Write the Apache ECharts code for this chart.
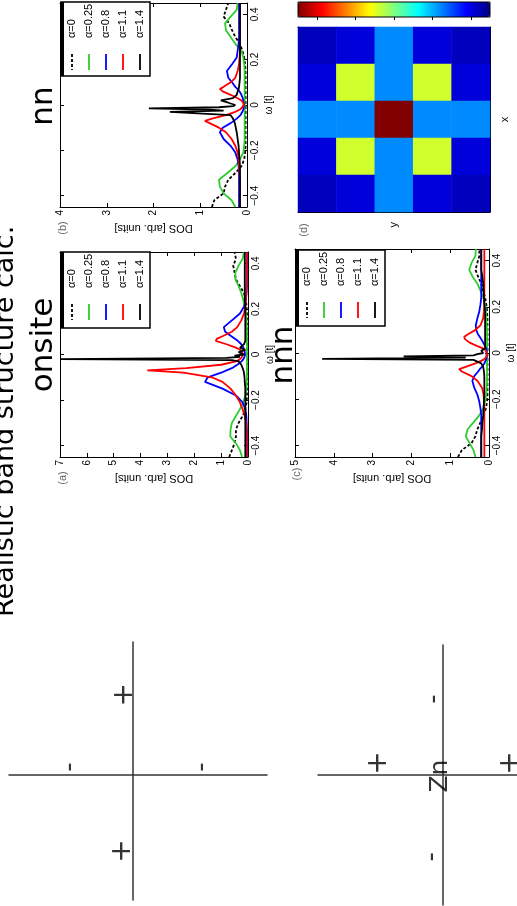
<!DOCTYPE html>
<html><head><meta charset="utf-8">
<script src="https://cdn.jsdelivr.net/npm/echarts@6/dist/echarts.min.js"></script>
<style>html,body{margin:0;padding:0;background:#fff}#c{width:517px;height:906px}</style>
</head><body><div id="c"></div>
<script>
// ---------- data ----------
const omega = [-0.45,-0.42,-0.39,-0.36,-0.33,-0.30,-0.27,-0.24,-0.21,-0.18,-0.15,-0.12,-0.10,
  -0.08,-0.07,-0.06,-0.045,-0.03,-0.025,-0.02,-0.015,-0.01,-0.005,0,
  0.01,0.02,0.03,0.045,0.06,0.07,0.08,
  0.10,0.12,0.15,0.18,0.21,0.24,0.27,0.30,0.33,0.36,0.39,0.42,0.45];
const omegaTicks = [-0.4,-0.2,0,0.2,0.4];
const legendLabels = ['α=0','α=0.25','α=0.8','α=1.1','α=1.4'];

// panel (a) onsite
const aDos0 = [0.70,0.60,0.50,0.45,0.45,0.35,0.20,0.10,0.05,0.04,0.04,0.04,0.04,
  0.04,0.04,0.04,0.04,0.04,0.04,0.04,0.04,0.04,0.04,0.04,
  0.04,0.04,0.04,0.04,0.04,0.04,0.04,
  0.04,0.04,0.04,0.04,0.05,0.08,0.15,0.30,0.45,0.50,0.55,0.45,0.50];
const aDos025 = [0.22,0.30,0.45,0.66,0.65,0.60,0.45,0.30,0.18,0.10,0.06,0.05,0.04,
  0.04,0.04,0.04,0.04,0.04,0.04,0.04,0.04,0.04,0.04,0.04,
  0.04,0.04,0.04,0.04,0.04,0.04,0.04,
  0.04,0.05,0.06,0.08,0.12,0.18,0.25,0.35,0.47,0.47,0.35,0.20,0.15];
const aDos08 = [0.04,0.04,0.04,0.04,0.04,0.05,0.06,0.10,0.20,0.45,0.95,1.60,1.50,
  1.00,0.80,0.60,0.40,0.24,0.20,0.17,0.15,0.13,0.12,0.11,
  0.12,0.14,0.17,0.25,0.38,0.50,0.62,
  0.85,0.90,0.60,0.30,0.15,0.08,0.05,0.04,0.04,0.04,0.04,0.04,0.04];
const aDos11 = [0.05,0.05,0.05,0.05,0.06,0.07,0.12,0.20,0.30,0.45,0.65,0.95,1.35,
  2.40,3.75,2.30,1.00,0.45,0.35,0.30,0.25,0.22,0.20,0.20,
  0.22,0.28,0.45,0.80,1.20,1.15,0.95,
  0.60,0.40,0.25,0.15,0.10,0.08,0.07,0.06,0.05,0.05,0.05,0.05,0.05];
const aDos14 = [0.10,0.10,0.10,0.10,0.10,0.10,0.10,0.10,0.10,0.10,0.10,0.12,0.13,
  0.15,0.17,0.20,0.25,0.35,0.60,7.00,0.80,0.30,0.50,0.15,
  0.35,0.10,0.30,0.15,0.10,0.10,0.10,
  0.10,0.10,0.10,0.10,0.10,0.12,0.12,0.12,0.12,0.12,0.12,0.12,0.12];

// panel (b) nn
const bDos0 = [0.75,0.70,0.50,0.47,0.40,0.25,0.12,0.06,0.04,0.03,0.03,0.03,0.03,
  0.03,0.03,0.03,0.03,0.03,0.03,0.03,0.03,0.03,0.03,0.03,
  0.03,0.03,0.03,0.03,0.03,0.03,0.03,
  0.03,0.03,0.03,0.04,0.06,0.10,0.15,0.25,0.32,0.38,0.50,0.45,0.40];
const bDos025 = [0.25,0.33,0.50,0.58,0.60,0.42,0.25,0.15,0.08,0.06,0.05,0.05,0.05,
  0.05,0.05,0.05,0.05,0.05,0.05,0.05,0.05,0.05,0.05,0.05,
  0.05,0.05,0.05,0.05,0.05,0.05,0.05,
  0.05,0.05,0.05,0.06,0.08,0.12,0.25,0.35,0.45,0.47,0.35,0.22,0.20];
const bDos08 = [0.17,0.17,0.17,0.17,0.17,0.17,0.18,0.20,0.25,0.35,0.50,0.58,0.52,
  0.35,0.28,0.22,0.14,0.10,0.09,0.08,0.08,0.07,0.07,0.07,
  0.07,0.08,0.09,0.12,0.16,0.20,0.25,
  0.32,0.40,0.43,0.32,0.22,0.20,0.18,0.17,0.17,0.17,0.17,0.17,0.17];
const bDos11 = [0.15,0.15,0.15,0.15,0.15,0.16,0.17,0.18,0.20,0.25,0.33,0.45,0.60,
  0.80,0.90,0.75,0.45,0.25,0.20,0.15,0.12,0.10,0.08,0.07,
  0.08,0.12,0.20,0.35,0.52,0.58,0.50,
  0.35,0.25,0.20,0.17,0.16,0.15,0.15,0.15,0.15,0.15,0.15,0.15,0.15];
const bDos14 = [0.15,0.15,0.15,0.15,0.15,0.15,0.15,0.16,0.17,0.18,0.20,0.22,0.24,
  0.26,0.28,0.30,0.35,1.65,0.50,0.80,2.10,0.60,0.30,0.25,
  0.40,0.56,0.30,0.22,0.20,0.18,0.17,
  0.16,0.15,0.15,0.15,0.15,0.15,0.15,0.15,0.15,0.15,0.15,0.15,0.15];

// panel (c) nnn
const cDos0 = [0.80,0.70,0.45,0.35,0.30,0.22,0.14,0.08,0.05,0.04,0.04,0.04,0.04,
  0.04,0.04,0.04,0.04,0.04,0.04,0.04,0.04,0.04,0.04,0.04,
  0.04,0.04,0.04,0.04,0.04,0.04,0.04,
  0.04,0.04,0.04,0.05,0.07,0.10,0.15,0.20,0.28,0.35,0.30,0.25,0.25];
const cDos025 = [0.35,0.40,0.50,0.60,0.55,0.40,0.25,0.15,0.10,0.07,0.06,0.05,0.05,
  0.05,0.05,0.05,0.05,0.05,0.05,0.05,0.05,0.05,0.05,0.05,
  0.05,0.05,0.05,0.05,0.05,0.05,0.05,
  0.05,0.06,0.07,0.08,0.10,0.15,0.22,0.30,0.42,0.51,0.45,0.35,0.34];
const cDos08 = [0.20,0.20,0.20,0.20,0.20,0.20,0.20,0.22,0.25,0.30,0.38,0.43,0.38,
  0.28,0.24,0.18,0.12,0.08,0.07,0.06,0.06,0.06,0.06,0.06,
  0.06,0.07,0.10,0.15,0.20,0.24,0.28,
  0.33,0.34,0.30,0.25,0.22,0.20,0.20,0.20,0.20,0.20,0.20,0.20,0.20];
const cDos11 = [0.12,0.12,0.12,0.12,0.12,0.12,0.12,0.12,0.13,0.14,0.18,0.30,0.45,
  0.70,0.77,0.60,0.35,0.15,0.10,0.08,0.07,0.06,0.06,0.06,
  0.08,0.15,0.30,0.50,0.62,0.64,0.55,
  0.35,0.22,0.15,0.13,0.12,0.12,0.12,0.12,0.12,0.12,0.12,0.12,0.12];
const cDos14 = [0.20,0.20,0.20,0.20,0.18,0.17,0.15,0.14,0.13,0.12,0.12,0.12,0.12,
  0.13,0.14,0.15,0.20,0.40,4.30,0.60,2.20,0.40,0.30,0.15,
  0.20,0.10,0.10,0.10,0.10,0.10,0.10,
  0.10,0.10,0.10,0.10,0.12,0.13,0.14,0.15,0.17,0.20,0.20,0.20,0.20];

// panel (d) heat map (5x5 rows top to bottom)
const heatCats = ['1','2','3','4','5'];
const heatRows = [
  [0.06,0.09,0.26,0.09,0.06],
  [0.09,0.58,0.26,0.58,0.09],
  [0.26,0.26,1.00,0.26,0.26],
  [0.09,0.58,0.26,0.58,0.09],
  [0.06,0.09,0.26,0.09,0.06]];
const colorbarTicks = [0.1,0.3,0.5,0.7,0.9];

// orbital cross sketches
const leftCrossX = [-0.06,-0.076,-0.487,0.536];
const leftCrossY = [0.62,-0.59,0.061,0.061];
const leftCrossText = ['+','+','-','-'];
const rightCrossX = [-0.072,-0.088,-0.512,0.544,-0.024];
const rightCrossY = [0.585,-0.63,0.092,0.092,-0.008];
const rightCrossText = ['-','-','+','+','Zn'];

// ---------- styling ----------
const FONT = '"Liberation Sans", Arial, sans-serif';
const SLIDE = '"DejaVu Sans", Verdana, sans-serif';
const seriesColors = ['#000000','#2fcc2f','#0000ff','#ff0000','#000000'];
const seriesDash = [[3,2],'solid','solid','solid','solid'];
const jet = ['#000080','#0000ff','#0080ff','#00ffff','#80ff80','#ffff00','#ff8000','#ff0000','#800000'];
const fmtOmega = v => (Math.abs(v) < 1e-9 ? '0' : (v < 0 ? '\u2212' : '') + Math.abs(v).toFixed(1));

const grids = [], xAxes = [], yAxes = [], series = [];

function addDosPanel(box, dmax, arrays) {
  const gi = grids.length;
  grids.push(Object.assign({show:false}, box));
  const tick = {show:true, inside:true, length:4, lineStyle:{color:'#000', width:1}};
  const line = {show:true, onZero:false, lineStyle:{color:'#000', width:1}};
  const xi = xAxes.length, yi = yAxes.length;
  xAxes.push({gridIndex:gi, type:'value', position:'bottom', inverse:true, min:0, max:dmax, interval:1,
    axisLine:line, axisTick:tick, splitLine:{show:false},
    axisLabel:{rotate:90, fontSize:10, color:'#000', margin:3, fontFamily:FONT},
    name:'DOS [arb. units]', nameLocation:'middle', nameRotate:180, nameGap:16,
    nameTextStyle:{fontSize:11, color:'#000', fontFamily:FONT}});
  xAxes.push({gridIndex:gi, type:'value', position:'top', inverse:true, min:0, max:dmax, interval:1,
    axisLine:line, axisTick:tick, splitLine:{show:false}, axisLabel:{show:false}});
  yAxes.push({gridIndex:gi, type:'value', position:'right', min:-0.45, max:0.45,
    axisLine:line, axisTick:Object.assign({customValues:omegaTicks}, tick), splitLine:{show:false},
    axisLabel:{rotate:90, fontSize:10, color:'#000', margin:3, fontFamily:FONT, customValues:omegaTicks, formatter:fmtOmega},
    name:'\u03c9 [t]', nameLocation:'middle', nameRotate:90, nameGap:17,
    nameTextStyle:{fontSize:10, color:'#000', fontFamily:FONT}});
  yAxes.push({gridIndex:gi, type:'value', position:'left', min:-0.45, max:0.45,
    axisLine:line, axisTick:Object.assign({customValues:omegaTicks}, tick), splitLine:{show:false},
    axisLabel:{show:false}});
  arrays.forEach((arr, k) => {
    series.push({type:'line', xAxisIndex:xi, yAxisIndex:yi, name:legendLabels[k],
      data: omega.map((w, i) => [arr[i], w]),
      symbol:'none', showSymbol:false, clip:false, animation:false, silent:true,
      lineStyle:{color:seriesColors[k], width:1.8, type:seriesDash[k]}, z:2+k});
  });
}

addDosPanel({left:60, top:3, width:187, height:204}, 4, [bDos0,bDos025,bDos08,bDos11,bDos14]);
addDosPanel({left:60, top:252, width:188, height:205}, 7, [aDos0,aDos025,aDos08,aDos11,aDos14]);
addDosPanel({left:295, top:249, width:194, height:208}, 5, [cDos0,cDos025,cDos08,cDos11,cDos14]);

// heat map panel
const hg = grids.length;
grids.push({show:false, left:298, top:27, width:192, height:185});
const hx = xAxes.length, hy = yAxes.length;
const catTick = {show:true, inside:true, alignWithLabel:true, length:3, lineStyle:{color:'#000'}};
const catLine = {show:true, lineStyle:{color:'#000', width:1}};
xAxes.push({gridIndex:hg, type:'category', data:heatCats, position:'bottom', axisLine:catLine, axisTick:catTick,
  axisLabel:{show:false}, splitLine:{show:false}, name:'y', nameLocation:'middle', nameGap:10, nameRotate:90,
  nameTextStyle:{fontSize:11, color:'#000', fontFamily:FONT}});
xAxes.push({gridIndex:hg, type:'category', data:heatCats, position:'top', axisLine:catLine, axisTick:catTick,
  axisLabel:{show:false}, splitLine:{show:false}});
yAxes.push({gridIndex:hg, type:'category', data:heatCats, inverse:true, position:'right', axisLine:catLine, axisTick:catTick,
  axisLabel:{show:false}, splitLine:{show:false}, name:'x', nameLocation:'middle', nameGap:9, nameRotate:90,
  nameTextStyle:{fontSize:11, color:'#000', fontFamily:FONT}});
yAxes.push({gridIndex:hg, type:'category', data:heatCats, inverse:true, position:'left', axisLine:catLine, axisTick:catTick,
  axisLabel:{show:false}, splitLine:{show:false}});
const heatData = [];
heatRows.forEach((row, r) => row.forEach((v, c) => heatData.push([c, r, v])));
const heatSeriesIndex = series.length;
series.push({type:'heatmap', xAxisIndex:hx, yAxisIndex:hy, data:heatData, silent:true, animation:false,
  itemStyle:{borderWidth:0}, z:2});

// colorbar tick axis
const cg = grids.length;
grids.push({show:false, left:298, top:2, width:192, height:15});
xAxes.push({gridIndex:cg, type:'value', position:'top', inverse:true, min:0, max:1,
  axisLine:{show:false}, axisTick:{show:true, inside:true, length:3, customValues:colorbarTicks, lineStyle:{color:'#000'}},
  axisLabel:{show:false}, splitLine:{show:false}, z:20});
yAxes.push({gridIndex:cg, type:'value', show:false, min:0, max:1});

// cross sketches
function addCross(box, xr, yr, xs, ys, txt) {
  const gi = grids.length;
  grids.push(Object.assign({show:false}, box));
  const xi = xAxes.length, yi = yAxes.length;
  const ax = {show:true, onZero:true, lineStyle:{color:'#333', width:1.5}};
  xAxes.push({gridIndex:gi, type:'value', min:xr[0], max:xr[1], axisLine:ax, axisTick:{show:false},
    axisLabel:{show:false}, splitLine:{show:false}});
  yAxes.push({gridIndex:gi, type:'value', min:yr[0], max:yr[1], axisLine:ax, axisTick:{show:false},
    axisLabel:{show:false}, splitLine:{show:false}});
  series.push({type:'scatter', xAxisIndex:xi, yAxisIndex:yi, symbolSize:0.1, silent:true, animation:false,
    itemStyle:{color:'rgba(0,0,0,0)'},
    data: xs.map((x, i) => ({value:[x, ys[i]], name:txt[i],
      label: txt[i] === 'Zn' ? {fontSize:25} : (txt[i] === '-' ? {fontSize:26} : {fontSize:28})})),
    label:{show:true, position:'inside', formatter:'{b}', rotate:90, color:'#000', fontFamily:SLIDE, fontSize:28}});
}
addCross({left:9, top:642, width:258, height:258}, [-0.96,1.04], [-0.97,1.03], leftCrossX, leftCrossY, leftCrossText);
addCross({left:318, top:645, width:199, height:260}, [-1,0.592], [-1,1], rightCrossX, rightCrossY, rightCrossText);

// ---------- decorations (rotated slide texts, legends) ----------
function rotText(x, y, text, size, family, align, fill) {
  return {type:'text', x:x, y:y, rotation:Math.PI/2, z:110, silent:true,
    style:{text:text, fontSize:size, fontFamily:family, fill:fill || '#000',
      align:align, textAlign:align, verticalAlign:'middle', textVerticalAlign:'middle'}};
}
function legendEls(left, top, h) {
  const els = [];
  els.push({type:'rect', z:100, silent:true, shape:{x:left, y:top, width:89, height:h},
    style:{fill:'#fff', stroke:'#000', lineWidth:1.5}});
  els.push({type:'rect', z:101, silent:true, shape:{x:left-1, y:top, width:4, height:h}, style:{fill:'#000'}});
  legendLabels.forEach((lab, k) => {
    const cx = left + 11 + 17*k;
    els.push({type:'line', z:101, silent:true, shape:{x1:cx, y1:top+52, x2:cx, y2:top+68},
      style:{stroke:seriesColors[k], lineWidth:1.8, lineDash: k === 0 ? [3,2] : null}});
    els.push(rotText(cx, top+36, lab, 11, FONT, 'left'));
  });
  return els;
}
const graphicEls = [
  rotText(6, 617, 'Realistic band structure calc.', 27, SLIDE, 'left'),
  rotText(44, 345, 'onsite', 31, SLIDE, 'center'),
  rotText(44, 106, 'nn', 31, SLIDE, 'center'),
  rotText(284, 355, 'nnn', 31, SLIDE, 'center'),
  rotText(63, 228, '(b)', 11, FONT, 'center', '#666'),
  rotText(63, 478, '(a)', 11, FONT, 'center', '#666'),
  rotText(297, 474, '(c)', 11, FONT, 'center', '#666'),
  rotText(304, 230, '(d)', 11, FONT, 'center', '#666'),
  {type:'rect', z:120, silent:true, shape:{x:298, y:2, width:192, height:15},
    style:{fill:'none', stroke:'#000', lineWidth:1}}
].concat(legendEls(61, 2, 74), legendEls(61, 252, 76), legendEls(296, 250, 76));

const chart = echarts.init(document.getElementById('c'), null, {renderer:'canvas'});
chart.setOption({
  backgroundColor:'#ffffff',
  animation:false,
  grid:grids, xAxis:xAxes, yAxis:yAxes, series:series,
  visualMap:{type:'continuous', min:0, max:1, seriesIndex:heatSeriesIndex, orient:'horizontal', inverse:true,
    left:298, top:2, itemWidth:15, itemHeight:192, calculable:false, padding:0, text:null,
    inRange:{color:jet}, hoverLink:false},
  graphic:{elements:graphicEls}
});
</script>
</body></html>
